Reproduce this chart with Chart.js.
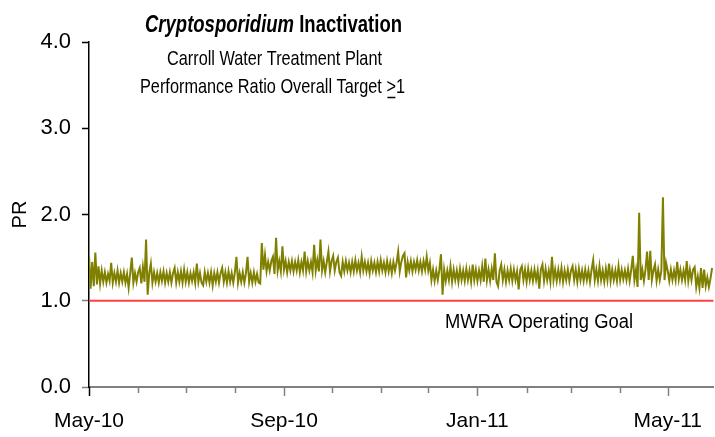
<!DOCTYPE html>
<html>
<head>
<meta charset="utf-8">
<script src="https://cdn.jsdelivr.net/npm/chart.js@4.4.1/dist/chart.umd.min.js"></script>
<style>
  html, body { margin: 0; padding: 0; background: #fff; }
  canvas { display: block; }
</style>
</head>
<body>
<canvas id="prChart" width="715" height="437"></canvas>
<script>
const START_DATE = '2010-05-01';
const LAST_DAY = 394; // right edge of the axis, in days from START_DATE

// Month tick positions and the labels shown under them
const monthStarts = [
  '2010-05-01', '2010-06-01', '2010-07-01', '2010-08-01', '2010-09-01', '2010-10-01', '2010-11-01',
  '2010-12-01', '2011-01-01', '2011-02-01', '2011-03-01', '2011-04-01', '2011-05-01'
];
const tickLabels = ['May-10', '', '', '', 'Sep-10', '', '', '', 'Jan-11', '', '', '', 'May-11'];
const yTicks = [0, 1, 2, 3, 4];

const goalValue = 1.0; // MWRA operating goal

// Daily performance ratio, one value per day from START_DATE
const prDaily = [
  1.52, 1.14, 1.45, 1.17, 1.56, 1.19, 1.40, 1.20, 1.35, 1.22,
  1.33, 1.21, 1.31, 1.23, 1.44, 1.21, 1.32, 1.22, 1.35, 1.21,
  1.32, 1.22, 1.33, 1.21, 1.31, 1.15, 1.32, 1.50, 1.21, 1.32,
  1.22, 1.33, 1.38, 1.20, 1.39, 1.22, 1.71, 1.07, 1.32, 1.43,
  1.21, 1.33, 1.22, 1.32, 1.21, 1.33, 1.23, 1.34, 1.21, 1.32,
  1.22, 1.33, 1.21, 1.32, 1.38, 1.21, 1.33, 1.22, 1.34, 1.21,
  1.36, 1.22, 1.33, 1.21, 1.32, 1.23, 1.33, 1.21, 1.43, 1.22,
  1.32, 1.21, 1.18, 1.33, 1.22, 1.32, 1.21, 1.33, 1.18, 1.32,
  1.22, 1.33, 1.21, 1.32, 1.38, 1.22, 1.33, 1.21, 1.34, 1.22,
  1.32, 1.21, 1.33, 1.51, 1.21, 1.32, 1.22, 1.33, 1.21, 1.32,
  1.51, 1.22, 1.32, 1.21, 1.33, 1.22, 1.31, 1.21, 1.20, 1.67,
  1.36, 1.53, 1.34, 1.45, 1.35, 1.46, 1.51, 1.31, 1.73, 1.35,
  1.46, 1.34, 1.63, 1.36, 1.46, 1.33, 1.45, 1.35, 1.46, 1.34,
  1.45, 1.35, 1.47, 1.33, 1.45, 1.35, 1.57, 1.34, 1.46, 1.35,
  1.45, 1.33, 1.65, 1.35, 1.47, 1.34, 1.71, 1.35, 1.46, 1.33,
  1.45, 1.57, 1.34, 1.46, 1.52, 1.35, 1.45, 1.50, 1.33, 1.29,
  1.45, 1.34, 1.46, 1.35, 1.44, 1.33, 1.45, 1.34, 1.47, 1.35,
  1.44, 1.33, 1.51, 1.35, 1.45, 1.34, 1.44, 1.32, 1.46, 1.35,
  1.44, 1.33, 1.45, 1.34, 1.47, 1.35, 1.44, 1.33, 1.46, 1.34,
  1.44, 1.32, 1.45, 1.35, 1.44, 1.57, 1.34, 1.45, 1.52, 1.55,
  1.27, 1.45, 1.35, 1.46, 1.34, 1.45, 1.36, 1.47, 1.35, 1.45,
  1.34, 1.46, 1.36, 1.51, 1.35, 1.44, 1.24, 1.36, 1.23, 1.35,
  1.24, 1.36, 1.54, 1.07, 1.36, 1.23, 1.35, 1.24, 1.40, 1.22,
  1.36, 1.24, 1.35, 1.22, 1.37, 1.24, 1.35, 1.23, 1.37, 1.24,
  1.35, 1.22, 1.42, 1.24, 1.36, 1.23, 1.35, 1.24, 1.40, 1.22,
  1.49, 1.24, 1.36, 1.23, 1.37, 1.24, 1.55, 1.22, 1.17, 1.35,
  1.42, 1.24, 1.36, 1.22, 1.35, 1.24, 1.37, 1.23, 1.36, 1.24,
  1.34, 1.13, 1.36, 1.40, 1.24, 1.36, 1.22, 1.37, 1.24, 1.35,
  1.23, 1.36, 1.24, 1.35, 1.14, 1.36, 1.42, 1.23, 1.37, 1.24,
  1.35, 1.22, 1.51, 1.24, 1.36, 1.23, 1.36, 1.24, 1.38, 1.22,
  1.35, 1.24, 1.36, 1.23, 1.35, 1.40, 1.24, 1.36, 1.22, 1.37,
  1.24, 1.35, 1.23, 1.36, 1.24, 1.35, 1.22, 1.36, 1.47, 1.24,
  1.36, 1.23, 1.40, 1.24, 1.35, 1.22, 1.37, 1.24, 1.43, 1.23,
  1.36, 1.24, 1.35, 1.23, 1.40, 1.24, 1.36, 1.25, 1.35, 1.24,
  1.37, 1.23, 1.36, 1.52, 1.24, 1.36, 1.16, 2.02, 1.24, 1.36,
  1.23, 1.36, 1.57, 1.24, 1.58, 1.24, 1.35, 1.42, 1.23, 1.36,
  1.24, 1.35, 2.20, 1.24, 1.44, 1.35, 1.23, 1.36, 1.24, 1.35,
  1.24, 1.45, 1.25, 1.36, 1.24, 1.35, 1.24, 1.46, 1.23, 1.36,
  1.24, 1.36, 1.39, 1.16, 1.28, 1.15, 1.38, 1.15, 1.36, 1.17,
  1.27, 1.16, 1.26, 1.38
];

const FONT = '"Liberation Sans", Arial, Helvetica, sans-serif';

function dayOffset(dateStr) {
  return Math.round((Date.parse(dateStr) - Date.parse(START_DATE)) / 86400000);
}
const monthTicks = monthStarts.map(dayOffset);

// draw a line of text squeezed horizontally to a given width (the original uses a narrow face)
function squeezedText(ctx, parts, left, baseline, targetWidth) {
  let total = 0;
  parts.forEach(p => { ctx.font = p.font; p.w = ctx.measureText(p.text).width; total += p.w; });
  const s = targetWidth / total;
  ctx.save();
  ctx.translate(left, baseline);
  ctx.scale(s, 1);
  let x = 0;
  parts.forEach(p => {
    ctx.font = p.font;
    ctx.fillText(p.text, x, 0);
    p.x0 = left + x * s;
    p.x1 = left + (x + p.w) * s;
    x += p.w;
  });
  ctx.restore();
  return parts;
}

const titlePlugin = {
  id: 'titles',
  afterDraw(chart) {
    const ctx = chart.ctx;
    ctx.save();
    ctx.fillStyle = '#000';
    ctx.textBaseline = 'alphabetic';
    ctx.textAlign = 'left';

    squeezedText(ctx, [
      { text: 'Cryptosporidium ', font: 'italic bold 23px ' + FONT },
      { text: 'Inactivation', font: 'bold 23px ' + FONT }
    ], 145, 32, 257);

    squeezedText(ctx, [{ text: 'Carroll Water Treatment Plant', font: '21px ' + FONT }], 167, 65, 215);

    const parts = squeezedText(ctx, [
      { text: 'Performance Ratio Overall Target ', font: '21px ' + FONT },
      { text: '>', font: '21px ' + FONT },
      { text: '1', font: '21px ' + FONT }
    ], 140, 93, 265);
    ctx.strokeStyle = '#000';
    ctx.lineWidth = 1.5;
    ctx.beginPath();
    ctx.moveTo(parts[1].x0 + 1, 97.5);
    ctx.lineTo(parts[1].x1 - 0.5, 97.5);
    ctx.stroke();

    squeezedText(ctx, [{ text: 'MWRA Operating Goal', font: '20px ' + FONT }], 445, 328, 188);

    // month tick marks under the x axis, longer where a label sits
    const xs = chart.scales.x;
    const bottom = chart.chartArea.bottom;
    monthTicks.forEach((v, i) => {
      const px = Math.round(xs.getPixelForValue(v)) + 0.5;
      ctx.strokeStyle = i === 0 ? '#000' : '#808080';
      ctx.lineWidth = 1.5;
      ctx.beginPath();
      ctx.moveTo(px, bottom);
      ctx.lineTo(px, bottom + (tickLabels[i] ? 9 : 6));
      ctx.stroke();
    });
    ctx.restore();
  }
};

const prPoints = prDaily.map((v, i) => ({ x: i, y: v }));
const goalPoints = [{ x: 0, y: goalValue }, { x: LAST_DAY, y: goalValue }];

new Chart(document.getElementById('prChart'), {
  type: 'line',
  data: {
    datasets: [
      {
        label: 'MWRA Operating Goal',
        data: goalPoints,
        borderColor: '#ff4040',
        borderWidth: 2,
        pointRadius: 0
      },
      {
        label: 'PR',
        data: prPoints,
        borderColor: '#808000',
        borderWidth: 2,
        pointRadius: 0,
        tension: 0
      }
    ]
  },
  options: {
    responsive: false,
    animation: false,
    events: [],
    layout: { padding: { top: 42, right: 1, left: 0, bottom: 0 } },
    plugins: {
      legend: { display: false },
      tooltip: { enabled: false },
      title: { display: false }
    },
    scales: {
      x: {
        type: 'linear',
        min: 0,
        max: LAST_DAY,
        afterBuildTicks: s => { s.ticks = monthTicks.map(v => ({ value: v })); },
        afterFit: s => { s.height = 50; },
        border: { color: '#808080', width: 2 },
        grid: { drawOnChartArea: false, drawTicks: true, tickLength: 9, tickColor: 'transparent' },
        ticks: {
          autoSkip: false,
          maxRotation: 0,
          padding: 13,
          color: '#000',
          font: { family: FONT, size: 21 },
          callback: (v, i) => tickLabels[i]
        }
      },
      y: {
        min: 0,
        max: 4,
        afterBuildTicks: s => { s.ticks = yTicks.map(v => ({ value: v })); },
        afterFit: s => { s.width = 89; },
        border: { color: '#000', width: 1.5 },
        grid: {
          drawOnChartArea: false,
          tickLength: 7,
          tickWidth: 1.5,
          tickColor: c => (c.tick && c.tick.value <= 1) ? '#808080' : '#000'
        },
        ticks: {
          padding: 11,
          color: '#000',
          font: { family: FONT, size: 22 },
          callback: v => v.toFixed(1)
        },
        title: {
          display: true,
          text: 'PR',
          color: '#000',
          font: { family: FONT, size: 20 },
          padding: { top: 8, bottom: 0 }
        }
      }
    }
  },
  plugins: [titlePlugin]
});
</script>
</body>
</html>
